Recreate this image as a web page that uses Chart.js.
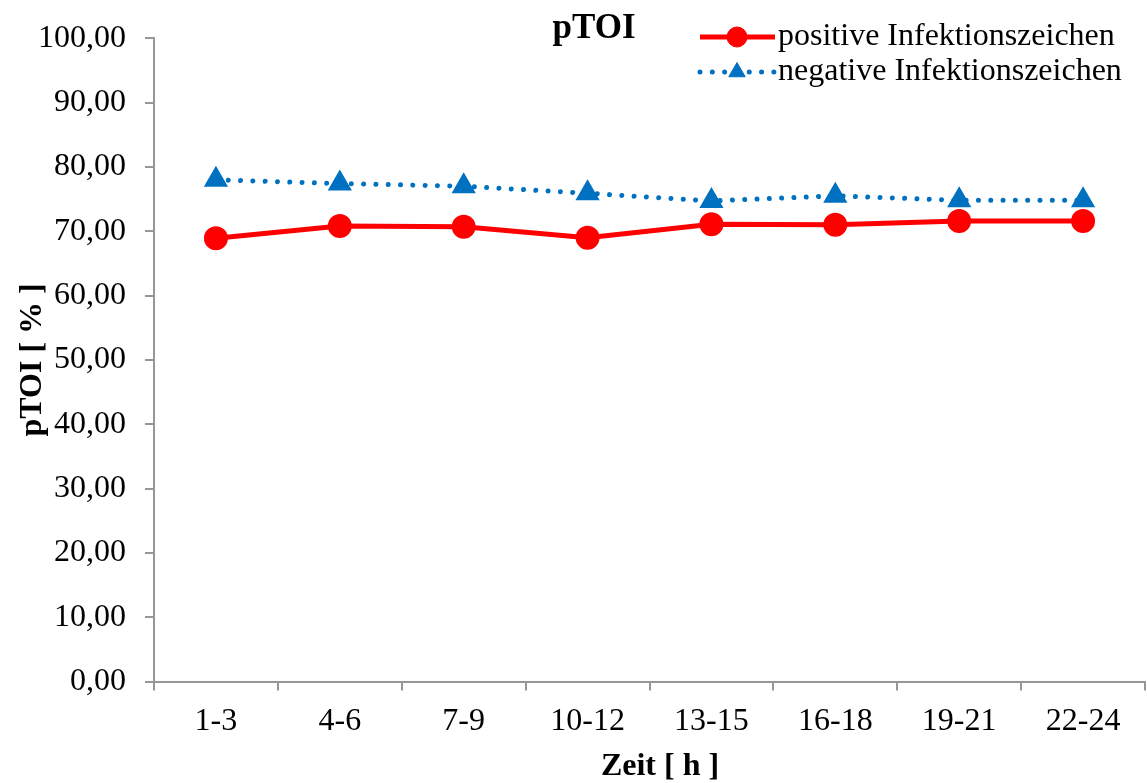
<!DOCTYPE html>
<html lang="de">
<head>
<meta charset="UTF-8">
<title>pTOI</title>
<script src="https://cdn.jsdelivr.net/npm/chart.js"></script>
<style>
    body { margin: 0; background: #fff; }
    #wrap { width: 1147px; height: 783px; position: relative; }
</style>
</head>
<body>
<div id="wrap"><canvas id="ptoiChart"></canvas></div>
<script>
const zeitLabels = ['1-3', '4-6', '7-9', '10-12', '13-15', '16-18', '19-21', '22-24'];
const positiveWerte = [68.9, 70.8, 70.7, 69.0, 71.1, 71.0, 71.6, 71.6];
const negativeWerte = [78.0, 77.4, 77.0, 75.9, 74.7, 75.5, 74.8, 74.8];
const serienNamen = ['positive Infektionszeichen', 'negative Infektionszeichen'];
const xTitel = 'Zeit [ h ]';

const ROT = '#FF0000';
const BLAU = '#0070C0';
const ACHSE = '#969696';
const SERIF = '"Liberation Serif", "Times New Roman", serif';

// title, legend and x title sit off-centre, so draw them by hand
const titelUndLegende = {
    id: 'titelUndLegende',
    afterDraw(chart) {
        const ctx = chart.ctx;
        ctx.save();
        ctx.fillStyle = '#000';
        ctx.font = 'bold 35px ' + SERIF;
        ctx.textAlign = 'center';
        ctx.textBaseline = 'middle';
        ctx.fillText('pTOI', 594, 29);

        ctx.font = 'bold 32px ' + SERIF;
        ctx.fillText(xTitel, 660, 767);

        const x0 = 700, x1 = 775, xm = 737;
        chart.data.datasets.forEach((ds, i) => {
            const y = 37 + i * 35;
            ctx.save();
            ctx.strokeStyle = ds.borderColor;
            ctx.lineWidth = ds.borderWidth;
            ctx.lineCap = ds.borderCapStyle || 'butt';
            ctx.setLineDash(ds.borderDash || []);
            ctx.beginPath();
            ctx.moveTo(x0, y);
            ctx.lineTo(x1, y);
            ctx.stroke();
            ctx.restore();
            ctx.fillStyle = ds.pointBackgroundColor;
            ctx.strokeStyle = ds.pointBorderColor;
            Chart.helpers.drawPoint(ctx, {
                pointStyle: ds.pointStyle,
                radius: ds.pointRadius + 0.5,
                rotation: 0,
                borderWidth: 1
            }, xm, y);
            ctx.fillStyle = '#000';
            ctx.font = '32px ' + SERIF;
            ctx.textAlign = 'left';
            ctx.fillText(ds.label, 778, y);
        });
        ctx.restore();
    }
};

new Chart(document.getElementById('ptoiChart'), {
    type: 'line',
    data: {
        labels: zeitLabels,
        datasets: [{
            label: serienNamen[0],
            data: positiveWerte,
            borderColor: ROT,
            backgroundColor: ROT,
            borderWidth: 5,
            pointStyle: 'circle',
            pointRadius: 9.5,
            pointBackgroundColor: ROT,
            pointBorderColor: ROT,
            tension: 0
        }, {
            label: serienNamen[1],
            data: negativeWerte,
            borderColor: BLAU,
            backgroundColor: BLAU,
            borderWidth: 5,
            borderDash: [0.01, 12.3],
            borderCapStyle: 'round',
            pointStyle: 'triangle',
            pointRadius: 9,
            pointBackgroundColor: BLAU,
            pointBorderColor: BLAU,
            tension: 0
        }]
    },
    options: {
        responsive: true,
        maintainAspectRatio: false,
        animation: false,
        layout: { autoPadding: false, padding: { top: 38, right: 2, left: 0, bottom: 30 } },
        plugins: {
            legend: { display: false },
            title: { display: false },
            tooltip: { enabled: false }
        },
        scales: {
            x: {
                offset: true,
                grid: { offset: true, drawOnChartArea: false, drawTicks: true, tickLength: 9, color: ACHSE, lineWidth: 2 },
                border: { color: ACHSE, width: 2 },
                ticks: { color: '#000', font: { family: SERIF, size: 32 }, padding: 12, maxRotation: 0 }
            },
            y: {
                min: 0,
                max: 100,
                ticks: {
                    stepSize: 10,
                    color: '#000',
                    font: { family: SERIF, size: 32 },
                    padding: 19,
                    callback: v => v.toFixed(2).replace('.', ',')
                },
                grid: { drawOnChartArea: false, drawTicks: true, tickLength: 9, color: ACHSE, lineWidth: 2 },
                border: { color: ACHSE, width: 2 },
                title: {
                    display: true, text: 'pTOI [ % ]', color: '#000',
                    font: { family: SERIF, size: 32, weight: 'bold', lineHeight: 1 },
                    padding: { top: 17, bottom: -30 }
                }
            }
        }
    },
    plugins: [titelUndLegende]
});
</script>
</body>
</html>
